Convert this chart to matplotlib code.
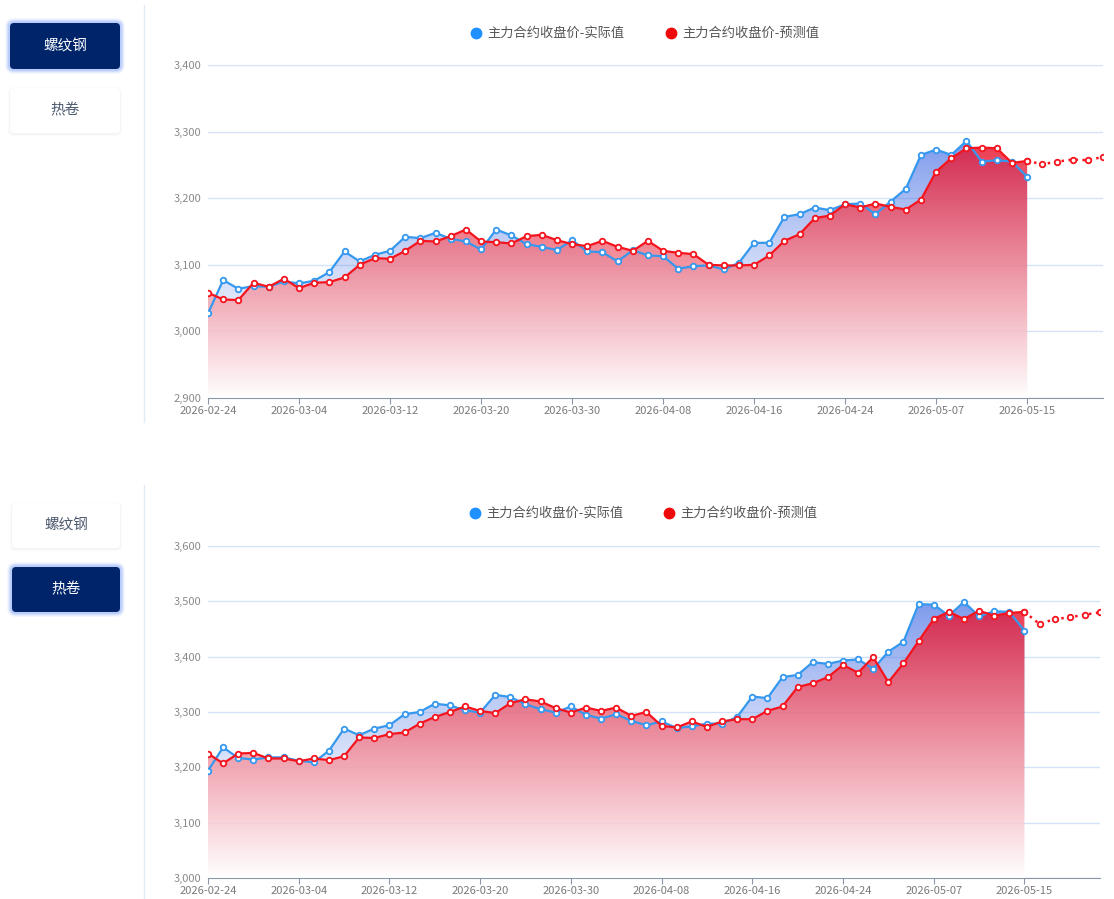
import numpy as np
import matplotlib
matplotlib.use("Agg")
import matplotlib.pyplot as plt
import matplotlib.colors as mcolors
from matplotlib.patches import FancyBboxPatch
from matplotlib.lines import Line2D
from matplotlib.transforms import IdentityTransform
from matplotlib.ticker import FuncFormatter

plt.rcParams['font.family'] = ['Noto Sans CJK SC', 'DejaVu Sans']

dates = ['2026-02-24', '2026-02-25', '2026-02-26', '2026-02-27', '2026-03-02', '2026-03-03',
         '2026-03-04', '2026-03-05', '2026-03-06', '2026-03-09', '2026-03-10', '2026-03-11',
         '2026-03-12', '2026-03-13', '2026-03-16', '2026-03-17', '2026-03-18', '2026-03-19',
         '2026-03-20', '2026-03-23', '2026-03-24', '2026-03-25', '2026-03-26', '2026-03-27',
         '2026-03-30', '2026-03-31', '2026-04-01', '2026-04-02', '2026-04-03', '2026-04-07',
         '2026-04-08', '2026-04-09', '2026-04-10', '2026-04-13', '2026-04-14', '2026-04-15',
         '2026-04-16', '2026-04-17', '2026-04-20', '2026-04-21', '2026-04-22', '2026-04-23',
         '2026-04-24', '2026-04-27', '2026-04-28', '2026-04-29', '2026-04-30', '2026-05-06',
         '2026-05-07', '2026-05-08', '2026-05-11', '2026-05-12', '2026-05-13', '2026-05-14',
         '2026-05-15', '2026-05-18', '2026-05-19', '2026-05-20', '2026-05-21', '2026-05-22']

# 螺纹钢
rebar_actual = [3027, 3077, 3064, 3068, 3067, 3075, 3072, 3076, 3089, 3120,
                3105, 3115, 3121, 3142, 3140, 3148, 3139, 3135, 3123, 3153,
                3144, 3131, 3127, 3122, 3137, 3120, 3119, 3105, 3122, 3114,
                3113, 3094, 3098, 3099, 3093, 3103, 3133, 3133, 3172, 3176,
                3186, 3182, 3191, 3192, 3176, 3195, 3214, 3265, 3273, 3265,
                3286, 3255, 3257, 3255, 3232]
rebar_pred = [3058, 3048, 3047, 3073, 3067, 3079, 3065, 3073, 3074, 3081,
              3100, 3110, 3109, 3121, 3136, 3135, 3143, 3153, 3135, 3134,
              3132, 3143, 3145, 3137, 3131, 3128, 3136, 3127, 3121, 3136,
              3121, 3118, 3116, 3100, 3099, 3099, 3100, 3114, 3136, 3146,
              3170, 3174, 3191, 3186, 3192, 3187, 3183, 3198, 3240, 3260,
              3275, 3276, 3275, 3253, 3256, 3251, 3255, 3258, 3257, 3262]

# 热卷
coil_actual = [3194, 3236, 3217, 3214, 3218, 3218, 3212, 3209, 3230, 3270,
               3258, 3270, 3276, 3296, 3300, 3315, 3312, 3303, 3299, 3331,
               3327, 3314, 3305, 3299, 3310, 3295, 3288, 3296, 3284, 3276,
               3283, 3271, 3274, 3279, 3279, 3291, 3328, 3325, 3363, 3367,
               3390, 3387, 3393, 3395, 3378, 3409, 3427, 3495, 3494, 3474,
               3499, 3473, 3482, 3481, 3447]
coil_pred = [3225, 3207, 3225, 3226, 3216, 3216, 3211, 3216, 3213, 3220,
             3254, 3253, 3260, 3263, 3279, 3291, 3300, 3310, 3302, 3298,
             3316, 3323, 3319, 3307, 3299, 3308, 3302, 3308, 3293, 3300,
             3275, 3272, 3283, 3273, 3283, 3287, 3287, 3302, 3310, 3345,
             3352, 3363, 3385, 3371, 3399, 3354, 3388, 3428, 3468, 3481,
             3468, 3483, 3474, 3479, 3481, 3459, 3468, 3471, 3476, 3480]

buttons = ['螺纹钢', '热卷']
legend_names = ['主力合约收盘价-实际值', '主力合约收盘价-预测值']

W, H = 1114, 899
BLUE = '#3598ee'
RED = '#f5141e'
fig = plt.figure(figsize=(W / 100, H / 100), dpi=100)


def grad_fill(ax, x, y, c_top, c_bot, a_top, a_bot, ybot, z):
    poly = ax.fill_between(x, y, ybot, facecolor='none', edgecolor='none')
    n = 256
    t = np.linspace(0, 1, n)[:, None]
    img = np.zeros((n, 1, 4))
    img[:, 0, :3] = (1 - t) * np.array(mcolors.to_rgb(c_bot)) + t * np.array(mcolors.to_rgb(c_top))
    img[:, 0, 3] = a_bot + (a_top - a_bot) * t[:, 0]
    im = ax.imshow(img, extent=[x[0], x[-1], ybot, max(y)], origin='lower',
                   aspect='auto', zorder=z, interpolation='bilinear')
    im.set_clip_path(poly.get_paths()[0], transform=ax.transData)


def button(x, y, w, h, text, active):
    tr = IdentityTransform()
    yb = H - y - h
    if active:
        for i, a in enumerate([0.05, 0.07, 0.1, 0.14]):
            p = 5 - i
            fig.patches.append(FancyBboxPatch((x - p, yb - p), w + 2 * p, h + 2 * p,
                               boxstyle='round,pad=0,rounding_size=%d' % (4 + p),
                               fc='#2f6df5', ec='none', alpha=a, transform=tr))
        fc, tc = '#00246a', 'white'
    else:
        for i, a in enumerate([0.03, 0.05]):
            p = 2 - i
            fig.patches.append(FancyBboxPatch((x - p, yb - p - 1), w + 2 * p, h + 2 * p,
                               boxstyle='round,pad=0,rounding_size=%d' % (4 + p),
                               fc='#8090a8', ec='none', alpha=a, transform=tr))
        fc, tc = 'white', '#4b5a6e'
    fig.patches.append(FancyBboxPatch((x, yb), w, h, boxstyle='round,pad=0,rounding_size=4',
                       fc=fc, ec='none', transform=tr))
    fig.text((x + w / 2) / W, 1 - (y + h / 2) / H, text, color=tc, fontsize=10.5,
             ha='center', va='center')


def panel(top, bottom, right, actual, pred, ylo, yhi, leg_y, leg_x):
    ax = fig.add_axes([208 / W, 1 - bottom / H, (right - 208) / W, (bottom - top) / H])
    n_act = len(actual)
    xa = np.arange(n_act)
    xp = np.arange(len(pred))

    grad_fill(ax, xa, actual, '#4a72e6', '#b4c8f4', 0.72, 0.0, ylo, 3)
    grad_fill(ax, xa, pred[:n_act], '#e8102a', '#ffffff', 0.8, 0.85, ylo, 3.1)

    mk = dict(marker='o', markersize=4, markerfacecolor='white', markeredgewidth=1.3)
    ax.plot(xa, actual, color=BLUE, lw=1.6, zorder=5, markeredgecolor=BLUE, **mk)
    ax.plot(xp[n_act - 1:], pred[n_act - 1:], color=RED, lw=1.8, ls=(0, (1, 1.8)),
            zorder=6, markeredgecolor=RED, **mk)
    ax.plot(xa, pred[:n_act], color=RED, lw=1.6, zorder=6, markeredgecolor=RED, **mk)

    ax.set_xlim(0, len(dates) - 1)
    ax.set_ylim(ylo, yhi)
    ax.set_yticks(np.arange(ylo, yhi + 1, 100))
    ax.yaxis.set_major_formatter(FuncFormatter(lambda v, p: '{:,.0f}'.format(v)))
    ax.grid(axis='y', color='#d3e2f6', lw=1)
    ax.set_axisbelow(True)
    ticks = list(range(0, len(dates), 6))
    ax.set_xticks(ticks)
    ax.set_xticklabels([dates[i] for i in ticks])
    for s in ['top', 'right', 'left']:
        ax.spines[s].set_visible(False)
    ax.spines['bottom'].set_color('#8d96a4')
    ax.spines['bottom'].set_zorder(2)
    ax.tick_params(axis='y', length=0, pad=5, labelsize=8, labelcolor='#8a8a8a')
    ax.tick_params(axis='x', length=4, color='#8d96a4', pad=2, labelsize=8, labelcolor='#7a7a7a')

    # legend
    for name, c, lx in zip(legend_names, ['#1e90ff', '#ee0a0a'], leg_x):
        fig.lines.append(Line2D([lx / W], [1 - leg_y / H], marker='o', markersize=7.5,
                                color=c, ls='none', transform=fig.transFigure))
        fig.text((lx + 11) / W, 1 - leg_y / H, name, fontsize=9.5, color='#555555',
                 va='center', ha='left')
    return ax


# top panel
fig.lines.append(Line2D([144 / W] * 2, [1 - 5 / H, 1 - 422 / H], color='#e2eaf5', lw=1,
                        transform=fig.transFigure))
button(10, 23, 110, 46, buttons[0], True)
button(10, 88, 110, 45, buttons[1], False)
panel(65, 398, 1103, rebar_actual, rebar_pred, 2900, 3400, 33, [476, 671])

# bottom panel
fig.lines.append(Line2D([144 / W] * 2, [1 - 485 / H, 0], color='#e2eaf5', lw=1,
                        transform=fig.transFigure))
button(12, 503, 108, 45, buttons[0], False)
button(12, 567, 108, 45, buttons[1], True)
panel(546, 878, 1100, coil_actual, coil_pred, 3000, 3600, 513, [475, 669])

fig.savefig('out.png', dpi=100)
